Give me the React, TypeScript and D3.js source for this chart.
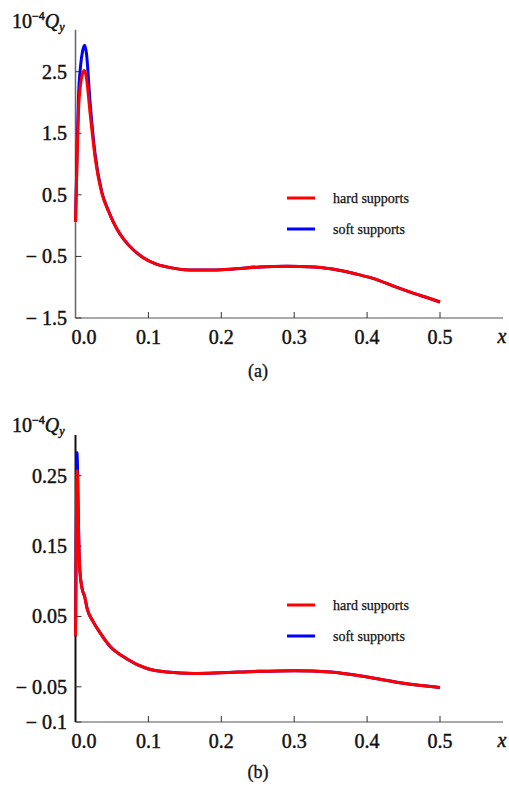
import React from 'react';
import * as d3 from 'd3';

// panel (a): hard vs soft supports, x along the span
const xA = [0, 0.002, 0.004, 0.007, 0.01, 0.0125, 0.015, 0.02, 0.027, 0.036, 0.045, 0.057, 0.066, 0.08, 0.093, 0.11, 0.125, 0.157, 0.19, 0.22, 0.253, 0.29, 0.327, 0.35, 0.372, 0.39, 0.409, 0.44, 0.464, 0.485, 0.5];
const hardA = [0.06, 1.0, 1.83, 2.3, 2.48, 2.52, 2.4, 1.83, 1.1, 0.53, 0.24, -0.06, -0.22, -0.4, -0.52, -0.62, -0.67, -0.72, -0.72, -0.7, -0.67, -0.66, -0.67, -0.7, -0.75, -0.8, -0.86, -1.0, -1.1, -1.18, -1.24];
const softA = [0.06, 1.1, 2.05, 2.6, 2.85, 2.93, 2.8, 2.0, 1.15, 0.55, 0.25, -0.06, -0.22, -0.4, -0.52, -0.62, -0.67, -0.72, -0.72, -0.7, -0.67, -0.66, -0.67, -0.7, -0.75, -0.8, -0.86, -1.0, -1.1, -1.18, -1.24];
const yTicksA = [2.5, 1.5, 0.5, -0.5, -1.5];

// panel (b)
const xB = [0, 0.001, 0.002, 0.003, 0.004, 0.006, 0.009, 0.0126, 0.016, 0.024, 0.0336, 0.047, 0.07, 0.098, 0.125, 0.162, 0.2, 0.25, 0.3, 0.35, 0.4, 0.45, 0.5];
const hardB = [0.022, 0.15, 0.257, 0.24, 0.18, 0.115, 0.09, 0.078, 0.061, 0.043, 0.027, 0.008, -0.01, -0.024, -0.029, -0.031, -0.03, -0.028, -0.027, -0.029, -0.036, -0.045, -0.051];
const softB = [0.022, 0.16, 0.283, 0.25, 0.185, 0.115, 0.09, 0.078, 0.061, 0.043, 0.027, 0.008, -0.01, -0.024, -0.029, -0.031, -0.03, -0.028, -0.027, -0.029, -0.036, -0.045, -0.051];
const yTicksB = [0.25, 0.15, 0.05, -0.05, -0.1];

const xTicks = [0, 0.1, 0.2, 0.3, 0.4, 0.5];
const legendLabels = ['hard supports', 'soft supports'];

const FONT = '"Liberation Serif", "DejaVu Serif", serif';
// the scanned figure has heavy-looking glyphs, so text gets a thin outline
const INK = { fill: '#111', stroke: '#111', strokeWidth: 0.45 };

const fmt = (v: number, digits: number) =>
  v < 0 ? '\u2212 ' + Math.abs(v).toFixed(digits).replace(/0$/, digits > 1 ? '' : '0') : v.toFixed(digits);

type PanelProps = {
  top: number;
  xs: number[];
  hard: number[];
  soft: number[];
  yTicks: number[];
  yDomain: [number, number];
  yTopVal: number;
  digits: number;
  caption: string;
  yAxisColor: string;
  yAxisWidth: number;
  legendY: number;
};

const Panel = ({ top, xs, hard, soft, yTicks, yDomain, yTopVal, digits, caption, yAxisColor, yAxisWidth, legendY }: PanelProps) => {
  const x = d3.scaleLinear().domain([0, 0.5]).range([75.5, 440]);
  const bottom = top + 290;
  const y = d3.scaleLinear().domain(yDomain).range([bottom, top + 43.7]);
  const line = d3.line<number>()
    .x((_, i) => x(xs[i]))
    .y(d => y(d))
    .curve(d3.curveMonotoneX);
  const x0 = x(0);

  return (
    <g fontFamily={FONT}>
      {/* axis title */}
      <text x={12} y={top} fontSize={20} {...INK}>
        10<tspan dy={-8} fontSize={12}>{'\u2212'}4</tspan>
        <tspan dy={8} fontStyle="italic" fontSize={20}>Q</tspan>
        <tspan dy={3} fontStyle="italic" fontSize={12}>y</tspan>
      </text>
      {/* axes */}
      <line x1={x0} x2={x0} y1={bottom} y2={y(yTopVal)} stroke={yAxisColor} strokeWidth={yAxisWidth} />
      <line x1={x0} x2={503} y1={bottom} y2={bottom} stroke="#555" strokeWidth={1.2} />
      {yTicks.map(t => (
        <g key={t}>
          <line x1={x0} x2={x0 + 6} y1={y(t)} y2={y(t)} stroke="#333" strokeWidth={1} />
          <text x={67} y={y(t)} dy="0.35em" textAnchor="end" fontSize={20} {...INK}>{fmt(t, digits)}</text>
        </g>
      ))}
      {xTicks.map(t => (
        <g key={t}>
          {t > 0 && <line x1={x(t)} x2={x(t)} y1={bottom} y2={bottom - 6} stroke="#333" strokeWidth={1} />}
          <text x={x(t) + (t === 0 ? 8.5 : 0)} y={bottom + 19} dy="0.35em" textAnchor="middle" fontSize={20} {...INK}>{t.toFixed(1)}</text>
        </g>
      ))}
      <text x={502} y={bottom + 18} dy="0.35em" textAnchor="middle" fontSize={20} fontStyle="italic" {...INK}>x</text>
      <text x={258} y={bottom + (top < 100 ? 53 : 50)} dy="0.35em" textAnchor="middle" fontSize={18} {...INK} strokeWidth={0.3}>{caption}</text>
      {/* curves */}
      <path d={line(soft) ?? ''} fill="none" stroke="#0000ff" strokeWidth={3} strokeLinejoin="round" />
      <path d={line(hard) ?? ''} fill="none" stroke="#ff0000" strokeWidth={3} strokeLinejoin="round" />
      {/* legend */}
      {legendLabels.map((lab, i) => (
        <g key={lab} transform={`translate(0,${legendY + i * 31})`}>
          <line x1={287} x2={315} y1={0} y2={0} stroke={i === 0 ? '#ff0000' : '#0000ff'} strokeWidth={3} />
          <text x={333} y={0} dy="0.35em" fontSize={14} {...INK} strokeWidth={0.25}>{lab}</text>
        </g>
      ))}
    </g>
  );
};

export default function App() {
  return (
    <div style={{ position: 'absolute', left: 0, top: 0 }}>
      <svg width={509} height={791} style={{ display: 'block', background: '#fff' }}>
        <Panel top={28} xs={xA} hard={hardA} soft={softA} yTicks={yTicksA} yDomain={[-1.5, 2.5]} yTopVal={3.18}
          digits={1} caption="(a)" yAxisColor="#666" yAxisWidth={1.5} legendY={198} />
        <Panel top={432} xs={xB} hard={hardB} soft={softB} yTicks={yTicksB} yDomain={[-0.1, 0.25]} yTopVal={0.308}
          digits={2} caption="(b)" yAxisColor="#111" yAxisWidth={2} legendY={605} />
      </svg>
    </div>
  );
}
